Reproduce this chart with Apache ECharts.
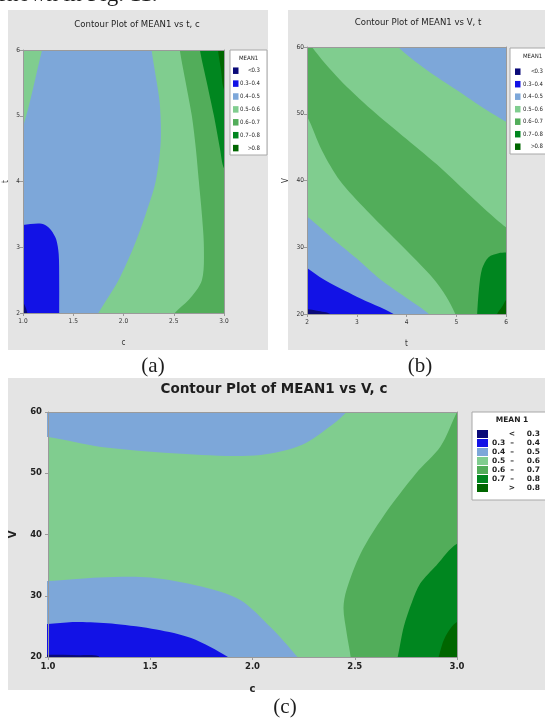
<!DOCTYPE html>
<html>
<head>
<meta charset="utf-8">
<script src="https://cdn.jsdelivr.net/npm/echarts@6/dist/echarts.min.js"></script>
<style>
  html, body { margin: 0; background: #fff; }
  #chart { width: 545px; height: 718px; }
</style>
</head>
<body>
<div id="chart"></div>
<script>
// MEAN1 class breaks, one colour per class (< 0.3 ... > 0.8)
const breaks = [0.3, 0.4, 0.5, 0.6, 0.7, 0.8];
const palette = ['#0a0a78', '#1212e6', '#7da7d9', '#80cd8f', '#52ad5a', '#00861f', '#006600'];

// tick labels
const cTicks = ['1.0', '1.5', '2.0', '2.5', '3.0'];
const tTicks = ['2', '3', '4', '5', '6'];
const vTicks = ['20', '30', '40', '50', '60'];

// (a) MEAN1 vs t, c  -- points are [c, t], painted in order over class 2
const aBase = 2;
const aCornerGreen = [[0.9, 6.1], [1.21, 6.1], [1.19, 6.0], [1.0, 4.83], [0.9, 4.6]];
const aRightGreen = [[2.28, 6.1], [2.28, 6.0], [2.31, 5.7], [2.36, 5.2], [2.37, 4.6], [2.32, 4.0], [2.22, 3.5], [2.1, 3.0], [1.95, 2.5], [1.75, 2.0], [1.72, 1.9], [3.1, 1.9], [3.1, 6.1]];
const aMidGreen = [[2.56, 6.1], [2.56, 6.0], [2.62, 5.5], [2.68, 5.0], [2.72, 4.5], [2.75, 4.0], [2.78, 3.5], [2.8, 3.0], [2.78, 2.5], [2.65, 2.2], [2.51, 2.0], [2.49, 1.9], [3.1, 1.9], [3.1, 6.1]];
const aDarkGreen = [[2.76, 6.1], [2.76, 6.0], [2.83, 5.5], [2.9, 5.0], [2.96, 4.5], [3.0, 4.2], [3.1, 4.0], [3.1, 6.1]];
const aDeepGreen = [[2.94, 6.1], [2.94, 6.0], [2.97, 5.7], [3.0, 5.4], [3.1, 5.2], [3.1, 6.1]];
const aBlue = [[0.9, 3.34], [1.0, 3.34], [1.15, 3.36], [1.22, 3.34], [1.28, 3.26], [1.33, 3.12], [1.355, 2.9], [1.36, 2.5], [1.36, 2.0], [1.36, 1.9], [0.9, 1.9]];
const aNavy = [[0.95, 2.16], [1.0, 2.16], [1.04, 2.02], [1.045, 1.9], [0.95, 1.9]];
const aRegions = [[3, aCornerGreen], [3, aRightGreen], [4, aMidGreen], [5, aDarkGreen], [6, aDeepGreen], [1, aBlue], [0, aNavy]];

// (b) MEAN1 vs V, t  -- points are [t, V], painted over class 4
const bBase = 4;
const bUpperGreen = [[2.08, 61], [2.1, 60], [2.66, 55.1], [3.3, 50.6], [4.0, 46.2], [4.7, 41.8], [5.3, 37.6], [5.8, 34.2], [6.0, 33], [6.1, 32.5], [6.1, 61]];
const bUpperBlue = [[3.8, 61], [3.83, 60], [4.4, 56.6], [5.0, 53.6], [5.6, 50.6], [6.0, 48.8], [6.1, 48.4], [6.1, 61]];
const bLowerGreen = [[1.9, 49.8], [2.0, 49.6], [2.3, 44.5], [2.66, 40], [3.2, 35.5], [3.8, 31], [4.2, 28], [4.55, 25.2], [4.8, 22.6], [4.98, 20], [5.0, 19], [1.9, 19]];
const bLowerBlue = [[1.9, 34.8], [2.0, 34.6], [2.5, 31.4], [3.0, 28.3], [3.47, 25.2], [4.0, 22.4], [4.45, 20], [4.5, 19], [1.9, 19]];
const bBlue = [[1.9, 27.2], [2.0, 26.9], [2.33, 25.2], [3.0, 22.6], [3.74, 20], [3.8, 19], [1.9, 19]];
const bNavy = [[1.9, 20.7], [2.0, 20.7], [2.2, 20.5], [2.47, 20], [2.5, 19], [1.9, 19]];
const bDarkGreen = [[5.42, 19], [5.42, 20], [5.46, 24], [5.52, 26.8], [5.65, 28.5], [5.85, 29.1], [6.0, 29.2], [6.1, 29.2], [6.1, 19]];
const bDeepGreen = [[5.8, 19], [5.82, 20], [5.93, 21.2], [6.0, 22.1], [6.1, 22.6], [6.1, 19]];
const bRegions = [[3, bUpperGreen], [2, bUpperBlue], [3, bLowerGreen], [2, bLowerBlue], [1, bBlue], [0, bNavy], [5, bDarkGreen], [6, bDeepGreen]];

// (c) MEAN1 vs V, c  -- points are [c, V], painted over class 3
const cBase = 3;
const cTopBlue = [[0.9, 56.0], [1.0, 55.9], [1.26, 54.3], [1.75, 53.0], [2.04, 53.0], [2.24, 54.6], [2.39, 57.9], [2.46, 60], [2.48, 61], [0.9, 61]];
const cLowBlue = [[0.9, 32.4], [1.0, 32.4], [1.25, 33.0], [1.5, 33.0], [1.75, 31.5], [1.94, 29.3], [2.09, 24.8], [2.22, 20], [2.24, 19], [0.9, 19]];
const cBlue = [[0.9, 25.4], [1.0, 25.4], [1.12, 25.7], [1.17, 25.7], [1.33, 25.4], [1.53, 24.5], [1.7, 23.1], [1.88, 20], [1.9, 19], [0.9, 19]];
const cNavy = [[0.9, 20.35], [1.0, 20.35], [1.15, 20.3], [1.245, 20.15], [1.26, 19], [0.9, 19]];
const cMidGreen = [[3.02, 61], [3.0, 60], [2.92, 54.4], [2.8, 50], [2.64, 43], [2.53, 37], [2.46, 31], [2.445, 28], [2.46, 24], [2.48, 20], [2.48, 19], [3.1, 19], [3.1, 61]];
const cDarkGreen = [[3.1, 38.7], [3.0, 38.5], [2.9, 35], [2.82, 32], [2.78, 29], [2.74, 25], [2.71, 20], [2.7, 19], [3.1, 19]];
const cDeepGreen = [[3.1, 26], [3.0, 25.7], [2.94, 23.1], [2.91, 20], [2.9, 19], [3.1, 19]];
const cRegions = [[2, cTopBlue], [2, cLowBlue], [1, cBlue], [0, cNavy], [4, cMidGreen], [5, cDarkGreen], [6, cDeepGreen]];

const narrow = "'Liberation Sans Narrow', 'DejaVu Sans Condensed', 'Liberation Sans', sans-serif";
const sans = "'DejaVu Sans', 'Liberation Sans', sans-serif";
const serif = "'Liberation Serif', 'DejaVu Serif', serif";
const axisGray = '#9a9a9a';

function legendRow(i) {
  if (i === 0) return ['', '<', breaks[0].toFixed(1)];
  if (i === breaks.length) return ['', '>', breaks[i - 1].toFixed(1)];
  return [breaks[i - 1].toFixed(1), '–', breaks[i].toFixed(1)];
}

function txt(x, y, text, font, align, vAlign) {
  return {
    type: 'text', x: x, y: y, silent: true, z: 10,
    style: {
      text: text, font: font, fill: '#1e1e1e',
      align: align || 'center', verticalAlign: vAlign || 'middle',
      textAlign: align || 'center', textVerticalAlign: vAlign || 'middle'
    }
  };
}

// box: [x, y, w, h]; sw: [x, w, h]; cols: [lowLeft, signCenter, highRight]
function legend(box, title, titleY, sw, cols, rowY, step, font) {
  const els = [{
    type: 'rect', silent: true, z: 9,
    shape: { x: box[0], y: box[1], width: box[2], height: box[3] },
    style: { fill: '#fff', stroke: '#a8a8a8', lineWidth: 1 }
  }, txt(box[0] + box[2] / 2, titleY, title, font)];
  for (let i = 0; i <= breaks.length; i++) {
    const y = rowY + i * step;
    const r = legendRow(i);
    els.push({
      type: 'rect', silent: true, z: 10,
      shape: { x: sw[0], y: y - sw[2] / 2, width: sw[1], height: sw[2] },
      style: { fill: palette[i] }
    });
    if (r[0]) els.push(txt(cols[0], y, r[0], font, 'left'));
    els.push(txt(cols[1], y, r[1], font, 'center'));
    els.push(txt(cols[2], y, r[2], font, 'right'));
  }
  return els;
}

function regionSeries(regions, idx) {
  return {
    type: 'custom', coordinateSystem: 'cartesian2d', xAxisIndex: idx * 2, yAxisIndex: idx * 2,
    clip: true, silent: true, z: 2,
    data: regions.map((r, i) => [i]),
    renderItem: function (params, api) {
      const r = regions[params.dataIndex];
      return {
        type: 'polygon',
        shape: { points: r[1].map(p => api.coord(p)), smooth: 0.3 },
        style: { fill: palette[r[0]] }
      };
    }
  };
}

function axisPair(gi, ticks, isX, label, name, nameGap, nameFont) {
  const base = {
    gridIndex: gi, type: 'value', z: 5,
    min: +ticks[0], max: +ticks[ticks.length - 1], interval: ticks[1] - ticks[0],
    splitLine: { show: false }
  };
  return [Object.assign({}, base, {
    position: isX ? 'bottom' : 'left',
    name: name, nameLocation: 'middle', nameGap: nameGap, nameRotate: isX ? 0 : 90,
    nameTextStyle: nameFont,
    axisLine: { show: true, lineStyle: { color: axisGray, width: 1 } },
    axisTick: { show: true, length: 3, lineStyle: { color: axisGray } },
    axisLabel: Object.assign({
      formatter: v => ticks.find(t => Math.abs(+t - v) < 1e-9) || ''
    }, label)
  }), Object.assign({}, base, {
    position: isX ? 'top' : 'right',
    axisLine: { show: true, lineStyle: { color: axisGray, width: 1 } },
    axisTick: { show: false }, axisLabel: { show: false }
  })];
}

const smallLab = { fontSize: 6.5, fontFamily: narrow, color: '#333' };
const smallName = { fontSize: 8, fontFamily: narrow, color: '#333' };
const bigLab = { fontSize: 8.5, fontFamily: sans, fontWeight: 'bold', color: '#222' };
const bigName = { fontSize: 10, fontFamily: sans, fontWeight: 'bold', color: '#222' };

const chart = echarts.init(document.getElementById('chart'), null, { renderer: 'canvas' });

chart.setOption({
  animation: false,
  backgroundColor: '#fff',
  grid: [
    { left: 23, top: 50, width: 201, height: 263, show: true, borderWidth: 0, backgroundColor: palette[aBase] },
    { left: 307, top: 47, width: 199, height: 267, show: true, borderWidth: 0, backgroundColor: palette[bBase] },
    { left: 47, top: 412, width: 410, height: 245, show: true, borderWidth: 0, backgroundColor: palette[cBase] }
  ],
  xAxis: [].concat(
    axisPair(0, cTicks, true, Object.assign({ margin: 5 }, smallLab), 'c', 26, smallName),
    axisPair(1, tTicks, true, Object.assign({ margin: 5 }, smallLab), 't', 26, smallName),
    axisPair(2, cTicks, true, Object.assign({ margin: 5 }, bigLab), 'c', 27, bigName)
  ),
  yAxis: [].concat(
    axisPair(0, tTicks, false, Object.assign({ margin: 3 }, smallLab), 't', 13, smallName),
    axisPair(1, vTicks, false, Object.assign({ margin: 3 }, smallLab), 'V', 17, smallName),
    axisPair(2, vTicks, false, Object.assign({ margin: 6 }, bigLab), 'V', 30, bigName)
  ),
  series: [regionSeries(aRegions, 0), regionSeries(bRegions, 1), regionSeries(cRegions, 2)],
  graphic: [].concat(
    [
      { type: 'rect', silent: true, z: -10, shape: { x: 8, y: 10, width: 260, height: 340 }, style: { fill: '#e4e4e4' } },
      { type: 'rect', silent: true, z: -10, shape: { x: 288, y: 10, width: 260, height: 340 }, style: { fill: '#e4e4e4' } },
      { type: 'rect', silent: true, z: -10, shape: { x: 8, y: 378, width: 540, height: 312 }, style: { fill: '#e4e4e4' } },
      txt(-2, -17, 'shown in Fig. 11.', '23px ' + serif, 'left', 'top'),
      txt(137, 25, 'Contour Plot of MEAN1 vs t, c', '9.5px ' + narrow),
      txt(418, 23, 'Contour Plot of MEAN1 vs V, t', '9.5px ' + narrow),
      txt(274, 389, 'Contour Plot of MEAN1 vs V, c', 'bold 13.5px ' + sans),
      txt(153, 366, '(a)', '21px ' + serif),
      txt(420, 366, '(b)', '21px ' + serif),
      txt(285, 707, '(c)', '21px ' + serif)
    ],
    legend([230, 50, 37, 105], 'MEAN1', 58, [233, 5.5, 6.5], [240, 250, 260], 70.7, 12.9, '6px ' + narrow),
    legend([510, 48, 45, 106], 'MEAN1', 56, [515, 5.5, 6.5], [523, 533, 543], 71.7, 12.5, '6px ' + narrow),
    legend([472, 412, 80, 88], 'MEAN 1', 420, [477, 11, 8], [492, 512, 540], 434, 9, 'bold 7.5px ' + sans)
  )
});
</script>
</body>
</html>
